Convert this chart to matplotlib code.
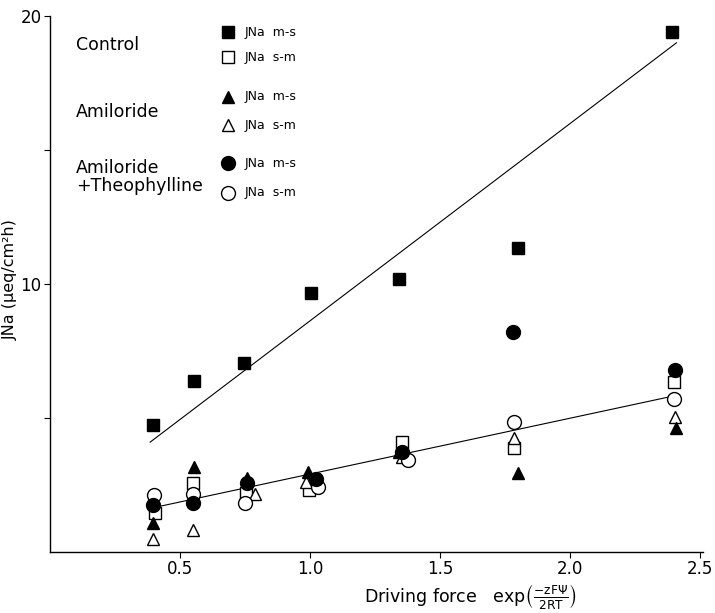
import matplotlib
matplotlib.use("Agg")
import matplotlib.pyplot as plt

# Driving force values (x) for each treatment
ctrl_ms_x = [0.396, 0.555, 0.747, 1.003, 1.340, 1.797, 2.392]
ctrl_ms_y = [4.74, 6.38, 7.05, 9.66, 10.19, 11.34, 19.4]
ctrl_sm_x = [0.404, 0.550, 0.754, 0.997, 1.353, 1.785, 2.397]
ctrl_sm_y = [1.46, 2.57, 2.20, 2.31, 4.10, 3.88, 6.34]
amil_ms_x = [0.397, 0.555, 0.756, 0.993, 1.342, 1.797, 2.408]
amil_ms_y = [1.08, 3.17, 2.76, 2.99, 3.73, 2.95, 4.63]
amil_sm_x = [0.397, 0.550, 0.788, 0.985, 1.353, 1.785, 2.404]
amil_sm_y = [0.49, 0.82, 2.16, 2.61, 3.54, 4.25, 5.04]
theo_ms_x = [0.397, 0.550, 0.756, 1.023, 1.353, 1.780, 2.404]
theo_ms_y = [1.75, 1.83, 2.57, 2.72, 3.73, 8.21, 6.79]
theo_sm_x = [0.400, 0.550, 0.750, 1.031, 1.377, 1.785, 2.397]
theo_sm_y = [2.13, 2.16, 1.83, 2.43, 3.43, 4.85, 5.71]

# regression line endpoints
upper_line_x = [0.385, 2.408]
upper_line_y = [4.1, 19.0]
lower_line_x = [0.41, 2.377]
lower_line_y = [1.68, 5.78]

x_ticks = [0.5, 1.0, 1.5, 2.0, 2.5]
x_tick_labels = ["0.5", "1.0", "1.5", "2.0", "2.5"]
y_major = [10, 20]
y_minor = [5, 15]

plt.rcParams['font.family'] = ['DejaVu Sans']

fig = plt.figure(figsize=(7.15, 6.13), dpi=100)
ax = fig.add_axes([50/715, 61/613, (703-50)/715, (552-16)/613])
ax.set_xlim(0, 2.51)
ax.set_ylim(0, 20)

ax.plot(upper_line_x, upper_line_y, color='black', lw=0.8)
ax.plot(lower_line_x, lower_line_y, color='black', lw=0.8)

kw_f = dict(linestyle='none', color='black', markerfacecolor='black')
kw_o = dict(linestyle='none', color='black', markerfacecolor='white', markeredgewidth=1.0)
series = [
    (ctrl_sm_x, ctrl_sm_y, 's', 8, kw_o),
    (amil_sm_x, amil_sm_y, '^', 9, kw_o),
    (theo_sm_x, theo_sm_y, 'o', 10, kw_o),
    (ctrl_ms_x, ctrl_ms_y, 's', 8.5, kw_f),
    (amil_ms_x, amil_ms_y, '^', 9, kw_f),
    (theo_ms_x, theo_ms_y, 'o', 10, kw_f),
]
for xs, ys, m, ms, kw in series:
    ax.plot(xs, ys, marker=m, markersize=ms, **kw)

# manual legend
leg_x = 0.685
leg_items = [
    ('s', 8.5, kw_f, 19.4, "JNa  m-s"),
    ('s', 8, kw_o, 18.46, "JNa  s-m"),
    ('^', 9, kw_f, 16.98, "JNa  m-s"),
    ('^', 9, kw_o, 15.93, "JNa  s-m"),
    ('o', 10, kw_f, 14.51, "JNa  m-s"),
    ('o', 10, kw_o, 13.40, "JNa  s-m"),
]
for m, ms, kw, yy, lab in leg_items:
    ax.plot([leg_x], [yy], marker=m, markersize=ms, clip_on=False, **kw)
    ax.text(leg_x + 0.065, yy, lab, fontsize=9, va='center', ha='left')

ax.text(0.1, 18.9, "Control", fontsize=12.5, va='center', ha='left')
ax.text(0.1, 16.4, "Amiloride", fontsize=12.5, va='center', ha='left')
ax.text(0.1, 14.0, "Amiloride\n+Theophylline", fontsize=12.5, va='center', ha='left', linespacing=1.0)

for s in ['top', 'right']:
    ax.spines[s].set_visible(False)
ax.spines['left'].set_linewidth(1.0)
ax.spines['bottom'].set_linewidth(1.0)

ax.set_xticks(x_ticks)
ax.set_xticklabels(x_tick_labels, fontsize=12)
ax.set_yticks(y_major)
ax.set_yticklabels([str(v) for v in y_major], fontsize=12)
ax.set_yticks(y_minor, minor=True)
ax.tick_params(axis='both', which='both', direction='out', length=4, width=0.8, pad=2)

fig.text(10/715, 1 - 280/613, "JNa (µeq/cm²h)", rotation=90, fontsize=11.5, ha='center', va='center')
fig.text(470/715, 1 - 597/613, r"Driving force   exp$\left(\frac{-\mathrm{zF}\Psi}{\mathrm{2RT}}\right)$", fontsize=12.5, ha='center', va='center')

fig.savefig("out.png", dpi=100)
